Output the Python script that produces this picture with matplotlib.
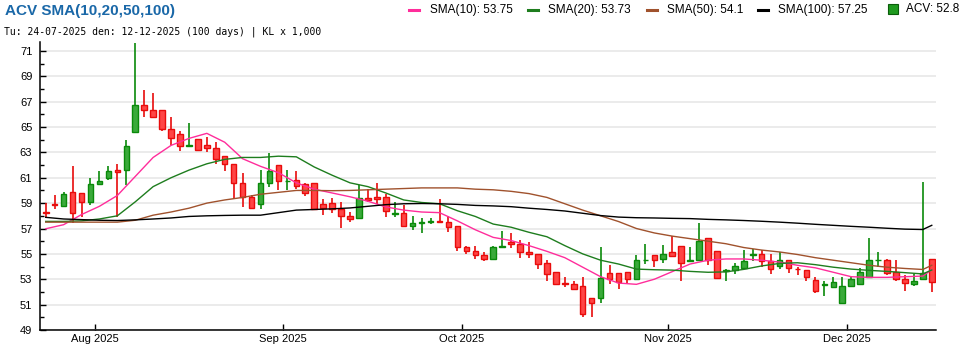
import numpy as np
import pandas as pd
import matplotlib
matplotlib.use('Agg')
import matplotlib.pyplot as plt
from matplotlib.lines import Line2D
from matplotlib.patches import Rectangle

'''
ACV daily candles with simple moving averages, 24-07-2025 .. 12-12-2025
'''

# trading days (HOSE closed 01-02/09 for National Day)
dates = pd.bdate_range('2025-07-24', '2025-12-12')
dates = dates.drop(pd.to_datetime(['2025-09-01', '2025-09-02']))

opens = [58.3, 58.95, 58.8, 59.9, 59.8, 59.1, 60.5, 61.0, 61.6, 61.6,
         64.6, 66.75, 66.35, 66.35, 64.85, 64.45, 63.52, 64.05, 63.55, 63.35,
         62.7, 62.1, 60.6, 59.5, 58.9, 60.6, 62.0, 60.72, 60.8, 60.5,
         60.6, 58.9, 59.0, 58.55, 57.95, 57.85, 59.4, 59.5, 59.5, 58.15,
         58.2, 57.2, 57.45, 57.52, 57.58, 57.5, 57.2, 55.55, 55.25, 54.9,
         54.6, 55.58, 55.95, 55.75, 55.15, 55.0, 54.25, 53.55, 52.7, 52.6,
         52.45, 51.5, 51.55, 53.5, 53.5, 53.55, 53.0, 54.48, 54.9, 54.6,
         55.15, 55.6, 54.45, 54.55, 56.25, 55.2, 53.66, 53.75, 53.85, 54.94,
         55.0, 54.45, 54.05, 54.55, 53.84, 53.7, 52.95, 52.53, 52.35, 51.1,
         52.5, 52.6, 53.15, 54.5, 54.5, 53.55, 53.0, 52.6, 53.0, 54.6]
highs = [59.0, 59.65, 59.9, 61.9, 59.8, 61.0, 61.55, 61.95, 62.05, 63.95,
         71.6, 67.95, 67.65, 66.35, 65.75, 64.65, 65.35, 64.05, 64.2, 63.8,
         62.7, 62.1, 61.35, 59.65, 61.65, 62.95, 62.0, 61.6, 61.55, 60.6,
         60.6, 59.35, 59.4, 59.1, 58.3, 60.4, 60.15, 60.6, 59.75, 59.1,
         58.85, 57.95, 57.85, 57.8, 59.35, 57.95, 57.2, 55.65, 55.6, 55.15,
         55.65, 56.8, 56.65, 56.1, 55.95, 55.0, 54.5, 53.55, 53.15, 52.9,
         53.15, 51.5, 55.55, 54.15, 53.5, 53.55, 54.9, 55.8, 54.9, 55.7,
         56.4, 55.6, 55.55, 57.45, 56.25, 55.2, 53.8, 54.3, 55.3, 55.35,
         55.3, 55.0, 55.15, 54.55, 53.95, 53.7, 53.15, 52.9, 53.15, 53.15,
         53.15, 53.9, 56.25, 55.15, 54.6, 54.5, 53.35, 53.4, 60.65, 54.6]
lows = [57.8, 58.5, 58.8, 57.4, 57.9, 58.85, 60.4, 60.8, 57.9, 60.4,
        64.6, 65.8, 65.7, 64.7, 63.6, 63.1, 63.5, 63.1, 63.0, 62.05,
        61.5, 59.35, 58.7, 58.5, 58.5, 60.25, 60.05, 60.05, 60.15, 59.6,
        58.55, 58.1, 58.2, 57.05, 57.5, 57.85, 59.1, 58.95, 57.9, 57.9,
        57.1, 56.85, 56.65, 57.35, 57.45, 56.75, 55.25, 55.0, 54.6, 54.4,
        54.6, 55.5, 55.45, 54.65, 54.65, 53.8, 52.9, 52.6, 52.4, 52.2,
        50.0, 50.05, 51.15, 52.65, 52.2, 52.6, 53.0, 54.2, 54.0, 54.25,
        54.8, 52.9, 54.35, 54.55, 54.1, 53.05, 52.9, 53.4, 53.85, 54.45,
        54.0, 53.45, 53.8, 53.5, 53.3, 52.9, 51.95, 51.65, 52.35, 51.1,
        52.4, 52.6, 53.15, 54.0, 53.3, 52.9, 52.1, 52.5, 53.0, 52.0]
closes = [58.2, 58.85, 59.7, 58.2, 59.05, 60.5, 60.75, 61.55, 61.45, 63.5,
          66.75, 66.35, 65.8, 64.85, 64.15, 63.5, 63.58, 63.2, 63.35, 62.5,
          62.1, 60.6, 59.45, 58.6, 60.6, 61.5, 60.75, 60.78, 60.35, 59.8,
          58.55, 58.6, 58.55, 57.95, 57.75, 59.4, 59.25, 59.3, 58.35, 58.2,
          57.2, 57.45, 57.5, 57.58, 57.52, 57.1, 55.55, 55.25, 54.9, 54.6,
          55.55, 55.62, 55.75, 55.15, 55.0, 54.2, 53.4, 52.65, 52.6, 52.25,
          50.25, 51.1, 53.1, 53.05, 52.75, 53.0, 54.5, 54.52, 54.5, 55.0,
          54.8, 54.25, 54.5, 56.0, 54.5, 53.1, 53.72, 54.05, 54.45, 54.98,
          54.45, 53.8, 54.5, 53.85, 53.77, 53.15, 52.05, 52.6, 52.75, 52.45,
          53.0, 53.55, 54.55, 54.55, 53.5, 53.05, 52.7, 52.9, 53.5, 52.8]

# moving averages, sampled every second session
sma_idx = list(range(0, 100, 2)) + [99]
sma10 = [56.98, 57.3, 58.1, 58.75, 59.6, 61.1, 62.6, 63.55, 64.1, 64.5,
         63.8, 62.5, 61.9, 61.4, 60.6, 60.1, 59.8, 59.5, 59.15, 58.7,
         58.45, 58.3, 58.25, 57.6, 56.9, 56.3, 56.05, 55.65, 55.2, 54.7,
         53.95, 53.2, 52.7, 52.6, 53.0, 53.6, 54.2, 54.5, 54.6, 54.6,
         54.5, 54.35, 54.1, 53.9, 53.55, 53.2, 53.15, 53.15, 53.2, 53.25, 53.75]
sma20 = [57.56, 57.56, 57.6, 57.75, 58.0, 59.1, 60.3, 61.0, 61.6, 62.1,
         62.45, 62.6, 62.6, 62.7, 62.65, 61.85, 61.2, 60.6, 60.3, 59.8,
         59.25, 59.05, 58.95, 58.4, 57.95, 57.35, 57.1, 56.7, 56.35, 55.65,
         55.0, 54.5, 54.2, 53.8, 53.75, 53.72, 53.62, 53.55, 53.58, 53.78,
         54.05, 54.25, 54.3, 54.15, 53.95, 53.8, 53.7, 53.62, 53.52, 53.42, 53.73]
sma50 = [57.5, 57.5, 57.5, 57.5, 57.5, 57.65, 58.05, 58.3, 58.6, 59.0,
         59.25, 59.45, 59.7, 59.85, 60.0, 60.0, 59.98, 60.0, 60.05, 60.1,
         60.15, 60.2, 60.2, 60.2, 60.1, 60.05, 59.93, 59.75, 59.45, 58.95,
         58.45, 58.0, 57.55, 57.0, 56.65, 56.4, 56.2, 56.0, 55.8, 55.5,
         55.3, 55.15, 54.95, 54.7, 54.5, 54.3, 54.1, 53.95, 53.85, 53.77, 54.1]
sma100 = [57.88, 57.75, 57.7, 57.65, 57.63, 57.68, 57.75, 57.83, 57.95, 58.0,
          58.03, 58.05, 58.05, 58.25, 58.45, 58.5, 58.55, 58.62, 58.75, 58.88,
          58.95, 58.97, 58.95, 58.9, 58.82, 58.78, 58.72, 58.6, 58.5, 58.38,
          58.2, 58.02, 57.9, 57.85, 57.83, 57.8, 57.78, 57.72, 57.68, 57.63,
          57.57, 57.5, 57.42, 57.33, 57.25, 57.17, 57.1, 57.02, 56.95, 56.92, 57.25]

sma_lines = [('SMA(10)', sma10, '#ff2d9b'),
             ('SMA(20)', sma20, '#1e7d1e'),
             ('SMA(50)', sma50, '#a0522d'),
             ('SMA(100)', sma100, '#000000')]

UP_FILL, UP_EDGE = '#3aaa3a', '#0a8a0a'
DN_FILL, DN_EDGE = '#ff4545', '#e80c0c'

plt.rcParams['font.family'] = ['Liberation Sans', 'DejaVu Sans']

fig = plt.figure(figsize=(9.7, 3.5), dpi=100)
ax = fig.add_axes([40/970, 20/350, 895.7/970, 288/350])

'''candles'''
o = np.array(opens)
h = np.array(highs)
l = np.array(lows)
c = np.array(closes)
x = np.arange(len(o))
up = c > o
lo = np.minimum(o, c)
ht = np.abs(c - o)

for m, fill, edge in [(up, UP_FILL, UP_EDGE), (~up, DN_FILL, DN_EDGE)]:
    ax.vlines(x[m], l[m], h[m], color=edge, lw=1.2, zorder=3)
    ax.bar(x[m], ht[m], bottom=lo[m], width=0.62, color=fill,
           edgecolor=edge, lw=1.0, zorder=4)

'''moving averages'''
for name, vals, col in sma_lines:
    ax.plot(sma_idx, vals, color=col, lw=1.0, zorder=5)

'''axes'''
ax.set_xlim(-0.64, 99.44)
ax.set_ylim(49, 71.7)
ax.set_yticks(np.arange(49, 72, 2))
ax.set_yticks(np.arange(50, 72, 2), minor=True)
ax.grid(axis='y', which='major', color='#e6e6e6', lw=1.1, zorder=0)
ax.set_axisbelow(True)

# month ticks sit between last session of a month and first of the next
starts = [i for i in range(1, len(dates)) if dates[i].month != dates[i-1].month]
ax.set_xticks([i - 0.5 for i in starts])
ax.set_xticklabels([dates[i].strftime('%b %Y') for i in starts])

ax.tick_params(axis='both', which='both', direction='in', colors='#000000',
               labelsize=8)
ax.tick_params(axis='y', which='major', length=4.5, width=1, pad=5.5)
ax.tick_params(axis='y', which='minor', length=3.2, width=1)
ax.tick_params(axis='x', which='major', length=4, width=1, pad=3)
for s in ['top', 'right']:
    ax.spines[s].set_visible(False)
for s in ['left', 'bottom']:
    ax.spines[s].set_linewidth(1.1)

'''header'''
fig.text(5/970, 1 - 11/350, 'ACV SMA(10,20,50,100)', color='#1a68a8',
         fontsize=11, fontweight='bold', va='center')
fig.text(4/970, 1 - 32/350,
         'Tu: 24-07-2025 den: 12-12-2025 (100 days) | KL x 1,000',
         family='DejaVu Sans Mono', fontsize=7, va='center')

ly = 1 - 9.5/350
key_x = [409, 528, 647, 758]
txt_x = [430, 548, 667, 778]
for (name, vals, col), kx, tx in zip(sma_lines, key_x, txt_x):
    fig.add_artist(Line2D([kx/970, (kx + 10)/970], [ly, ly], color=col,
                          lw=2.2, transform=fig.transFigure))
    fig.text(tx/970, ly, f'{name}: {vals[-1]:g}', fontsize=8.5, va='center')
fig.add_artist(Rectangle((888/970, 1 - 14/350), 10/970, 10/350,
                         facecolor='#1f9a1f', edgecolor='#0b5d0b', lw=0.8,
                         transform=fig.transFigure))
fig.text(906/970, ly, f'ACV: {closes[-1]:g}', fontsize=8.5, va='center')

fig.savefig('out.png', dpi=100)
